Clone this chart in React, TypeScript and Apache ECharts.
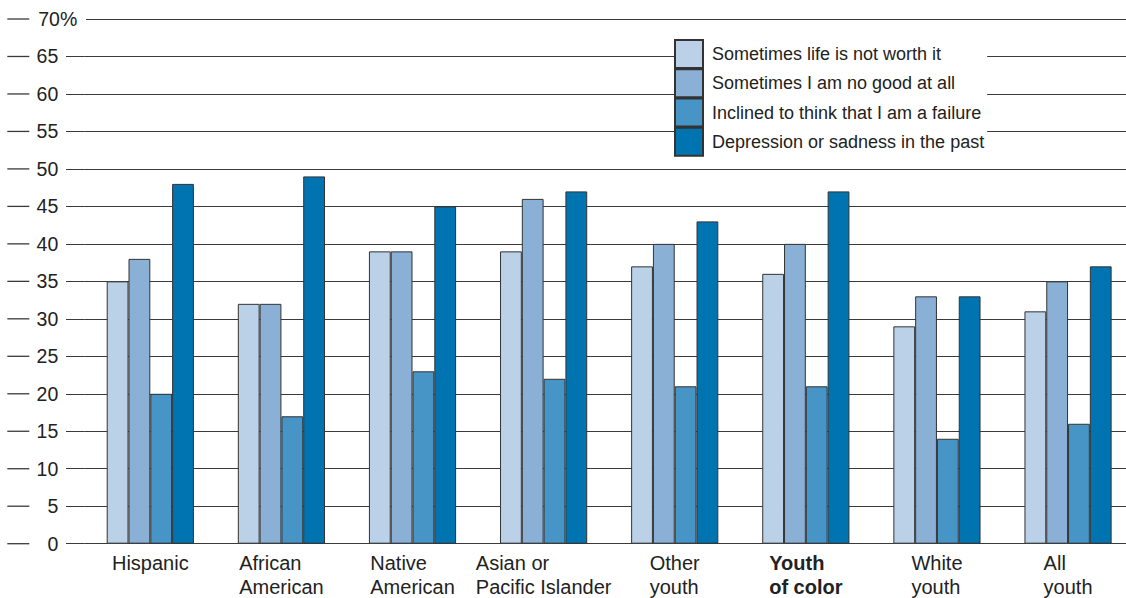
import React, { useEffect, useRef } from "react";
import * as echarts from "echarts";

const categories = [
  "Hispanic",
  "African\nAmerican",
  "Native\nAmerican",
  "Asian or\nPacific Islander",
  "Other\nyouth",
  "Youth\nof color",
  "White\nyouth",
  "All\nyouth",
];
const boldCategories = ["Youth\nof color"];

const seriesNames = [
  "Sometimes life is not worth it",
  "Sometimes I am no good at all",
  "Inclined to think that I am a failure",
  "Depression or sadness in the past",
];
const lifeNotWorthIt = [35, 32, 39, 39, 37, 36, 29, 31];
const noGoodAtAll = [38, 32, 39, 46, 40, 40, 33, 35];
const failure = [20, 17, 23, 22, 21, 21, 14, 16];
const depression = [48, 49, 45, 47, 43, 47, 33, 37];
const seriesValues = [lifeNotWorthIt, noGoodAtAll, failure, depression];
const seriesColors = ["#bad1e8", "#8ab0d6", "#4794c6", "#0074b1"];

const yMin = 0;
const yMax = 70;
const yInterval = 5;
const yUnit = "%";

const FONT = "'Liberation Sans', Arial, Helvetica, sans-serif";
const INK = "#222";
const LINE = "#3a3a3a";

export default function App() {
  const ref = useRef<HTMLDivElement>(null);

  useEffect(() => {
    if (!ref.current) return;
    const chart = echarts.init(ref.current, null, { renderer: "svg" });
    chart.setOption({
      animation: false,
      backgroundColor: "#fff",
      textStyle: { fontFamily: FONT },
      grid: {
        left: 84.75,
        width: 1048.85,
        top: 19,
        bottom: 54.3,
        containLabel: false,
        outerBoundsMode: "none",
      },
      legend: {
        orient: "vertical",
        left: 674,
        top: 39,
        itemGap: -0.75,
        itemWidth: 28,
        itemHeight: 28,
        icon: "rect",
        backgroundColor: "#fff",
        padding: [0, 3, 0, 0],
        selectedMode: false,
        data: seriesNames,
        textStyle: { fontSize: 18, color: INK, fontFamily: FONT, padding: [0, 0, 0, 4] },
      },
      xAxis: {
        type: "category",
        data: categories,
        axisLine: { show: false },
        axisTick: { show: false },
        axisLabel: {
          interval: 0,
          margin: 7.5,
          align: "center",
          verticalAlign: "top",
          formatter: (v: string) => {
            const st = boldCategories.includes(v) ? "b" : "a";
            return v
              .split("\n")
              .map((l) => `{${st}|${l}}`)
              .join("\n");
          },
          rich: {
            a: { fontSize: 20, lineHeight: 24, color: INK, fontFamily: FONT, align: "left" },
            b: { fontSize: 20, lineHeight: 24, color: INK, fontFamily: FONT, fontWeight: "bold", align: "left" },
          },
        },
      },
      yAxis: {
        type: "value",
        min: yMin,
        max: yMax,
        interval: yInterval,
        axisLine: { show: false },
        axisTick: { show: true, length: 18.75, lineStyle: { color: LINE, width: 1 } },
        splitLine: { show: true, lineStyle: { color: LINE, width: 1 } },
        axisLabel: {
          margin: -1.25,
          align: "right",
          width: 78.7,
          formatter: (v: number) =>
            v === yMax ? `{d|}{v7|${v}}{p|${yUnit}}` : `{d|}{v|${v}}`,
          rich: {
            d: { width: 22, height: 1.3, backgroundColor: LINE, align: "left" },
            v: { fontSize: 19.5, color: INK, fontFamily: FONT, align: "right", padding: [0, 27.7, 0, 0] },
            v7: { fontSize: 19.5, color: INK, fontFamily: FONT, align: "right" },
            p: {
              fontSize: 19.5,
              color: INK,
              fontFamily: FONT,
              align: "right",
              padding: [0, 8.7, 0, 0],
              backgroundColor: "#fff",
            },
          },
        },
      },
      series: seriesNames.map((name, i) => ({
        name,
        type: "bar",
        data: seriesValues[i],
        barGap: "0%",
        barCategoryGap: "33.5%",
        itemStyle: { color: seriesColors[i], borderColor: "#333", borderWidth: 1 },
      })),
    });
    return () => chart.dispose();
  }, []);

  return (
    <div
      ref={ref}
      style={{ position: "fixed", left: 0, top: 0, width: 1126, height: 598, background: "#fff" }}
    />
  );
}
